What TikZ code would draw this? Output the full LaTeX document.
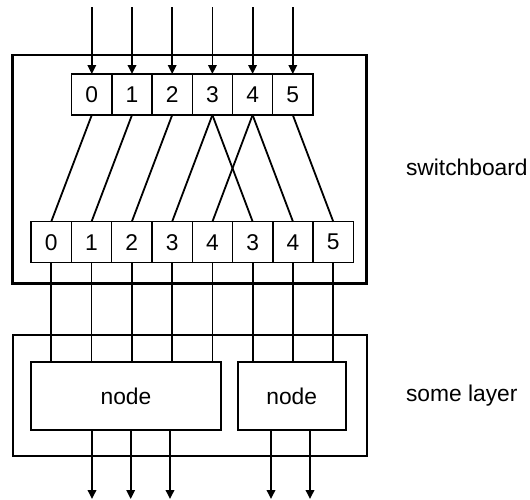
\documentclass[tikz,border=0pt]{standalone}
\usepackage{fontspec}
\setmainfont{Liberation Sans}
\usetikzlibrary{arrows.meta}
\begin{document}
\begin{tikzpicture}[x=1pt,y=-1pt,
  every node/.style={inner sep=0pt,outer sep=0pt,font=\fontsize{22.8}{27}\selectfont},
  cell/.style={draw,line width=1.5pt,minimum width=40.2pt,minimum height=41pt},
  bcell/.style={draw,line width=1.5pt,minimum width=40.3pt,minimum height=41pt},
  frame/.style={draw,line width=2.8pt},
  lframe/.style={draw,line width=2pt},
  nodebox/.style={draw,line width=2pt,minimum height=68.3pt},
  wire/.style={line width=1.8pt},
  arr/.style={line width=1.8pt,-{Triangle[length=9pt,width=8.5pt]}}]
\useasboundingbox (0,0) rectangle (530,499);
% frames
\node[frame,minimum width=354.2pt,minimum height=228.3pt] (sw) at (189.6,169.15) {};
\node[lframe,minimum width=354.2pt,minimum height=120.7pt] (ly) at (189.6,395.35) {};
% top cells
\foreach \i in {0,...,5}{
  \node[cell] (t\i) at ({91.8+40.2*\i},94.5) {\i};
}
% bottom cells
\foreach \i/\l in {0/0,1/1,2/2,3/3,4/4,5/3,6/4,7/5}{
  \node[bcell] (b\i) at ({51.2+40.3*\i},242.2) {\l};
}
% input arrows
\foreach \i in {0,...,5}{
  \coordinate (in\i) at ({91.8+40.2*\i},7);
  \draw[arr] (in\i) -- (t\i.north);
}
% permutation wires
\foreach \a/\b in {0/0,1/1,2/2,3/3,3/5,4/4,4/6,5/7}{
  \draw[wire] (t\a.south) -- (b\b.north);
}
% nodes
\node[nodebox,minimum width=190pt] (n1) at (126,395.85) {node};
\node[nodebox,minimum width=108pt] (n2) at (291.7,395.85) {node};
% wires down
\foreach \i in {0,...,4}{
  \draw[wire] (b\i.south) -- (b\i.south |- n1.north);
}
\foreach \i in {5,6,7}{
  \draw[wire] (b\i.south) -- (b\i.south |- n2.north);
}
% outputs
\foreach \i/\x in {0/92,1/130.7,2/170}{
  \coordinate (o\i) at (\x,499);
  \draw[arr] (n1.south -| o\i) -- (o\i);
}
\foreach \i/\x in {3/271,4/310}{
  \coordinate (o\i) at (\x,499);
  \draw[arr] (n2.south -| o\i) -- (o\i);
}
% labels
\node[anchor=west] (lsw) at (406,167) {switchboard};
\node[anchor=west] (lly) at (406,396) {some layer};
\end{tikzpicture}
\end{document}
